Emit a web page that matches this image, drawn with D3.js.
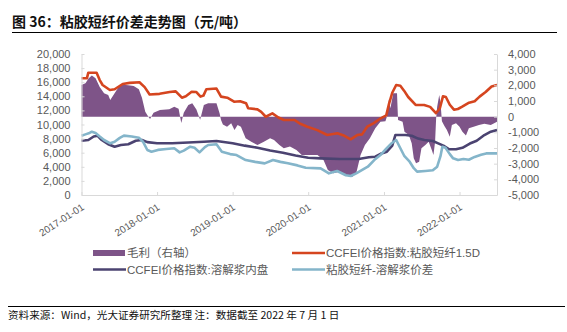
<!DOCTYPE html>
<html><head><meta charset="utf-8">
<script src="https://cdn.jsdelivr.net/npm/d3@7"></script>
<style>
html,body{margin:0;padding:0;background:#fff;}
svg{display:block;}
text{font-family:"Liberation Sans","Noto Sans CJK SC",sans-serif;}
</style></head>
<body>
<svg id="c" width="567" height="332"></svg>
<script>
// ---------- DATA ----------
const titleText = "图 36：粘胶短纤价差走势图（元/吨）";
const footerText = "资料来源：Wind，光大证券研究所整理 注：数据截至 2022 年 7 月 1 日";
const seriesNames = ["毛利（右轴）", "CCFEI价格指数:粘胶短纤1.5D", "CCFEI价格指数:溶解浆内盘", "粘胶短纤-溶解浆价差"];

const leftTicks = [0,2000,4000,6000,8000,10000,12000,14000,16000,18000,20000];
const leftTickLabels = ["0","2,000","4,000","6,000","8,000","10,000","12,000","14,000","16,000","18,000","20,000"];
const rightTicks = [-5000,-4000,-3000,-2000,-1000,0,1000,2000,3000,4000];
const rightTickLabels = ["-5,000","-4,000","-3,000","-2,000","-1,000","0","1,000","2,000","3,000","4,000"];
const xTickDates = ["2017-01-01","2018-01-01","2019-01-01","2020-01-01","2021-01-01","2022-01-01"];

// CCFEI价格指数:粘胶短纤1.5D (left axis)
const viscoseDates = ["2017-01-01","2017-01-27","2017-02-03","2017-03-15","2017-03-30","2017-04-13","2017-05-18","2017-06-10","2017-07-19","2017-08-22","2017-10-08","2017-11-02","2017-11-26","2018-01-13","2018-03-03","2018-04-01","2018-05-01","2018-05-20","2018-06-17","2018-07-10","2018-07-30","2018-08-13","2018-08-27","2018-10-15","2018-11-06","2018-12-06","2019-01-08","2019-02-06","2019-03-07","2019-03-17","2019-05-01","2019-05-19","2019-06-10","2019-07-12","2019-08-10","2019-09-06","2019-10-27","2019-11-24","2019-12-28","2020-02-14","2020-04-02","2020-05-21","2020-06-24","2020-07-24","2020-08-25","2020-09-17","2020-10-12","2020-11-13","2020-12-16","2021-01-12","2021-01-26","2021-02-10","2021-03-01","2021-03-21","2021-04-08","2021-04-28","2021-06-03","2021-07-14","2021-08-12","2021-09-09","2021-09-28","2021-10-13","2021-10-27","2021-11-15","2021-12-05","2021-12-24","2022-01-12","2022-02-16","2022-03-15","2022-04-08","2022-05-07","2022-06-05","2022-07-01"];
const viscoseValues = [16550,16550,17350,17350,16300,15600,14900,15000,15750,15900,16000,15300,14250,14350,14600,14700,13800,14000,14650,14600,13950,14100,15000,15100,13950,13800,13230,13300,13000,12300,12150,11800,11100,11580,11000,10640,10640,10100,9690,9200,8510,8750,8400,7900,8500,8600,9690,10200,10880,11300,13000,14500,15600,15500,14800,13900,12770,12770,12500,11600,12300,14000,13900,12800,12100,12200,12500,13100,13300,13950,14600,15400,15600];

// CCFEI价格指数:溶解浆内盘 (left axis)
const pulpDates = ["2017-01-01","2017-02-03","2017-03-01","2017-03-20","2017-04-05","2017-05-10","2017-06-10","2017-07-10","2017-08-15","2017-09-20","2017-10-20","2017-11-15","2018-01-01","2018-03-15","2018-06-01","2018-08-15","2018-10-15","2019-01-01","2019-03-01","2019-05-01","2019-07-01","2019-09-01","2019-11-01","2020-01-01","2020-03-01","2020-06-01","2020-09-01","2020-10-20","2020-11-20","2020-12-20","2021-01-15","2021-02-10","2021-02-25","2021-04-15","2021-05-15","2021-06-15","2021-07-15","2021-08-25","2021-09-20","2021-10-15","2021-11-10","2021-12-15","2022-01-15","2022-02-20","2022-03-25","2022-05-01","2022-06-01","2022-07-01"];
const pulpValues = [7700,7800,8300,8400,7900,7200,6850,7100,7200,7700,7800,7500,7350,7330,7450,7550,7660,7350,7000,6700,6300,6000,5600,5290,5200,5100,5100,5350,5430,5900,6140,7000,8500,8510,8400,8000,7800,7660,7330,7000,6500,6480,6700,7300,7700,8500,8980,9220];

// 粘胶短纤-溶解浆价差 (left axis)
const spreadDates = ["2017-01-01","2017-01-20","2017-02-05","2017-02-20","2017-03-10","2017-03-30","2017-04-20","2017-05-20","2017-06-10","2017-07-05","2017-07-25","2017-09-01","2017-10-05","2017-10-25","2017-11-15","2017-12-05","2018-01-05","2018-02-15","2018-03-25","2018-04-20","2018-05-10","2018-06-10","2018-07-01","2018-07-25","2018-08-20","2018-09-05","2018-10-15","2018-11-10","2018-12-20","2019-01-20","2019-03-05","2019-04-20","2019-06-05","2019-07-15","2019-08-20","2019-09-25","2019-11-10","2019-12-20","2020-03-01","2020-04-10","2020-05-20","2020-07-01","2020-07-25","2020-08-20","2020-09-20","2020-10-15","2020-11-15","2020-12-15","2021-01-10","2021-02-05","2021-03-01","2021-03-20","2021-04-10","2021-05-05","2021-05-25","2021-06-10","2021-07-20","2021-08-25","2021-09-15","2021-10-01","2021-10-10","2021-10-25","2021-11-15","2021-12-01","2021-12-25","2022-01-20","2022-02-15","2022-03-15","2022-04-15","2022-05-10","2022-07-01"];
const spreadValues = [8420,8600,8750,8980,8800,8300,7800,7330,7560,8100,8420,8300,8130,7560,6380,6140,6400,6520,6620,6050,6300,6850,6700,6050,6800,7090,7190,6140,5800,5670,4960,4700,4490,4960,4700,4490,4200,3870,3780,3070,3400,2800,2700,3070,3600,4010,4960,5670,6500,7300,7800,6700,5500,4720,3800,3310,3400,3500,4020,5500,6850,6700,5800,5200,4960,5100,5000,5400,5700,5900,5900];

// 毛利（右轴） (right axis)
const marginDates = ["2017-01-01","2017-01-20","2017-02-05","2017-02-20","2017-03-10","2017-03-30","2017-04-20","2017-05-10","2017-05-20","2017-06-20","2017-07-10","2017-08-15","2017-09-10","2017-10-05","2017-10-20","2017-11-05","2017-11-20","2017-11-28","2017-12-15","2018-01-15","2018-03-01","2018-03-25","2018-04-15","2018-04-28","2018-05-10","2018-06-01","2018-06-20","2018-07-10","2018-07-28","2018-08-15","2018-09-05","2018-10-15","2018-10-30","2018-11-06","2018-11-15","2018-12-05","2018-12-25","2019-01-10","2019-01-25","2019-02-10","2019-03-05","2019-04-01","2019-05-01","2019-06-01","2019-07-01","2019-07-20","2019-08-15","2019-09-05","2019-10-05","2019-11-05","2019-12-01","2020-01-15","2020-02-15","2020-03-15","2020-04-05","2020-05-01","2020-06-01","2020-07-01","2020-08-01","2020-08-20","2020-09-10","2020-10-01","2020-10-25","2020-11-20","2020-12-15","2021-01-08","2021-01-15","2021-01-18","2021-01-25","2021-02-01","2021-02-15","2021-03-05","2021-03-10","2021-04-01","2021-04-10","2021-05-01","2021-05-15","2021-05-25","2021-06-05","2021-06-20","2021-07-01","2021-07-20","2021-08-05","2021-08-20","2021-08-28","2021-09-05","2021-09-10","2021-09-15","2021-09-25","2021-10-01","2021-10-08","2021-10-20","2021-11-01","2021-11-15","2021-11-25","2021-12-15","2022-01-01","2022-01-15","2022-02-01","2022-02-15","2022-03-10","2022-04-05","2022-05-01","2022-06-01","2022-07-01"];
const marginValues = [2020,2130,2450,2630,2450,1900,1500,1390,1070,1700,2050,2000,1950,1750,1200,320,0,-150,250,430,470,640,500,-400,250,750,850,450,-200,750,860,860,220,-210,-500,-640,-420,-850,-530,-640,-1380,-1600,-1810,-1600,-1380,-1490,-1810,-2020,-1910,-2130,-2450,-2450,-2450,-2760,-3400,-3610,-3510,-3720,-3830,-3610,-2450,-1810,-1380,-740,-320,-300,0,430,1100,540,1490,1490,-210,-320,-960,-1170,-1700,-2660,-2980,-2870,-2020,-1810,-1600,-2130,-2450,-1600,-100,640,1390,900,-300,-600,-850,-1280,-530,-420,-640,-960,-1200,-740,-640,-530,-450,-530,-320];

// ---------- DRAW ----------
const colors = {margin:"#7E5488", viscose:"#D5451F", pulp:"#4B4371", spread:"#84B5CA"};
const svg = d3.select("#c");
const parse = d3.timeParse("%Y-%m-%d");
const X0 = 81.5, X1 = 497, Y0 = 195, Y1 = 54;

const x = d3.scaleTime().domain([parse("2017-01-01"), parse("2022-07-01")]).range([X0, X1]);
const yL = d3.scaleLinear().domain([0, 20000]).range([Y0, Y1]);
const yR = d3.scaleLinear().domain([-5000, 4000]).range([Y0, Y1]);

// title
svg.append("text").attr("x", 12).attr("y", 26.5).text(titleText)
  .style("font-family", '"Noto Sans CJK SC",sans-serif').style("font-weight", "bold")
  .style("font-size", "14px").attr("fill", "#111");
svg.append("line").attr("x1", 12).attr("x2", 557).attr("y1", 32.5).attr("y2", 32.5)
  .attr("stroke", "#000").attr("stroke-width", 1.2);

// margin area
const mData = marginDates.map((d, i) => ({d: parse(d), v: marginValues[i]}));
svg.append("path").datum(mData)
  .attr("d", d3.area().x(p => x(p.d)).y0(yR(0)).y1(p => yR(p.v)))
  .attr("fill", colors.margin);

function drawLine(dates, vals, col) {
  const data = dates.map((d, i) => ({d: parse(d), v: vals[i]}));
  svg.append("path").datum(data)
    .attr("d", d3.line().x(p => x(p.d)).y(p => yL(p.v)))
    .attr("fill", "none").attr("stroke", col).attr("stroke-width", 2.6)
    .attr("stroke-linejoin", "round");
}
drawLine(pulpDates, pulpValues, colors.pulp);
drawLine(spreadDates, spreadValues, colors.spread);
drawLine(viscoseDates, viscoseValues, colors.viscose);

// axes
const axisColor = "#d9d9d9", labelColor = "#595959";
function styleAxis(g) {
  g.selectAll("path.domain").attr("stroke", axisColor);
  g.selectAll(".tick line").attr("stroke", axisColor);
  g.selectAll("text").attr("fill", labelColor).style("font-size", "11px")
    .style("font-family", '"Liberation Sans",sans-serif');
}
const gL = svg.append("g").attr("transform", `translate(${X0},0)`)
  .call(d3.axisLeft(yL).tickValues(leftTicks).tickFormat((d, i) => leftTickLabels[i])
    .tickSizeInner(-3).tickSizeOuter(0).tickPadding(11));
styleAxis(gL);
const gR = svg.append("g").attr("transform", `translate(${X1},0)`)
  .call(d3.axisRight(yR).tickValues(rightTicks).tickFormat((d, i) => rightTickLabels[i])
    .tickSizeInner(-3).tickSizeOuter(0).tickPadding(11));
styleAxis(gR);
const gB = svg.append("g").attr("transform", `translate(0,${Y0})`)
  .call(d3.axisBottom(x).tickValues(xTickDates.map(parse)).tickFormat(() => "")
    .tickSizeInner(-3).tickSizeOuter(0));
styleAxis(gB);
gB.selectAll(".tick").append("text")
  .attr("transform", "translate(1,11) rotate(-33)")
  .attr("text-anchor", "end").attr("dy", "0.35em")
  .attr("fill", labelColor).style("font-size", "10px")
  .style("font-family", '"Liberation Sans",sans-serif')
  .text((d, i) => xTickDates[i]);

// legend
const legendItems = [
  {name: seriesNames[0], col: colors.margin, type: "rect", x: 93, y: 253},
  {name: seriesNames[1], col: colors.viscose, type: "line", x: 292, y: 253},
  {name: seriesNames[2], col: colors.pulp, type: "line", x: 93, y: 269.5},
  {name: seriesNames[3], col: colors.spread, type: "line", x: 292, y: 269.5}
];
legendItems.forEach(it => {
  if (it.type === "rect") {
    svg.append("rect").attr("x", it.x).attr("y", it.y - 3).attr("width", 32).attr("height", 6).attr("fill", it.col);
  } else {
    svg.append("line").attr("x1", it.x).attr("x2", it.x + 33).attr("y1", it.y).attr("y2", it.y)
      .attr("stroke", it.col).attr("stroke-width", 2.6);
  }
  svg.append("text").attr("x", it.x + 34).attr("y", it.y).attr("dy", "0.36em")
    .attr("fill", labelColor).style("font-size", "11.5px").text(it.name);
});

// footer
svg.append("line").attr("x1", 8).attr("x2", 565).attr("y1", 306.5).attr("y2", 306.5)
  .attr("stroke", "#000").attr("stroke-width", 1);
svg.append("text").attr("x", 8).attr("y", 318.5).text(footerText)
  .style("font-family", '"Noto Sans CJK SC",sans-serif').style("font-size", "10.6px").attr("fill", "#111");
</script>
</body></html>
